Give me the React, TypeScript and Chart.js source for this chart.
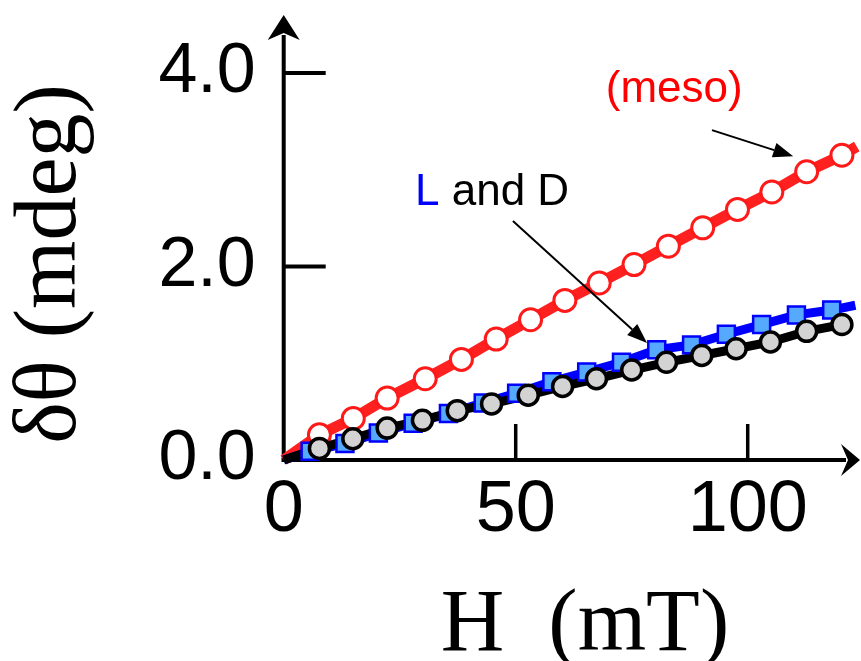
import React, { useEffect, useRef } from 'react';
import { Chart, registerables } from 'chart.js';

Chart.register(...registerables);

// ---- data ----
const mesoH = [7.7, 15.0, 22.3, 30.5, 38.3, 45.8, 53.2, 60.6, 68.0, 75.5, 82.9, 90.3, 97.8, 105.2, 112.7, 120.3];
const mesoTheta = [0.26, 0.43, 0.64, 0.84, 1.04, 1.25, 1.45, 1.65, 1.83, 2.02, 2.21, 2.40, 2.59, 2.77, 2.98, 3.15];

const lH = [5.7, 13.2, 20.4, 27.9, 35.5, 43.0, 50.2, 57.8, 65.3, 72.8, 80.4, 87.9, 95.4, 103.0, 110.5, 118.1];
const lTheta = [0.09, 0.17, 0.28, 0.38, 0.48, 0.59, 0.69, 0.81, 0.91, 1.01, 1.14, 1.19, 1.30, 1.40, 1.50, 1.55];

const dH = [7.7, 14.9, 22.3, 29.9, 37.4, 44.8, 52.7, 60.1, 67.4, 75.0, 82.5, 90.1, 97.5, 104.9, 112.7, 120.3];
const dTheta = [0.12, 0.22, 0.33, 0.41, 0.51, 0.58, 0.67, 0.76, 0.84, 0.93, 1.01, 1.08, 1.15, 1.22, 1.33, 1.40];

// connecting lines run from the origin through the points
const mesoLineH = [0, ...mesoH, 123.5];
const mesoLineTheta = [0, ...mesoTheta, 3.24];
const lLineH = [0, ...lH, 123.2];
const lLineTheta = [0, ...lTheta, 1.6];
const dLineH = [0, ...dH];
const dLineTheta = [0, ...dTheta];

const xTickValues = [0, 50, 100];
const yTickValues = [0, 2, 4];
const xMax = 124.2;
const yMax = 4.6;

const xTitle = 'H  (mT)';
const yTitle = 'δθ (mdeg)';

// annotations in data coordinates
const mesoLabel = { text: '(meso)', x: 69.4, y: 3.7 };
const mesoArrow = { x1: 92.3, y1: 3.41, x2: 109.8, y2: 3.14 };
const ldLabel = { x: 28.3, y: 2.64 };
const ldArrow = { x1: 49.4, y1: 2.47, x2: 78.3, y2: 1.21 };

const SANS = "'Liberation Sans', Arial, sans-serif";
const SERIF = "'Liberation Serif', 'Times New Roman', serif";

const pts = (xs: number[], ys: number[]) => xs.map((x, i) => ({ x, y: ys[i] }));

function drawArrow(ctx: CanvasRenderingContext2D, x1: number, y1: number, x2: number, y2: number) {
  const ang = Math.atan2(y2 - y1, x2 - x1);
  const len = 20;
  const hw = 7.5;
  const bx = x2 - len * Math.cos(ang);
  const by = y2 - len * Math.sin(ang);
  ctx.beginPath();
  ctx.moveTo(x1, y1);
  ctx.lineTo(bx, by);
  ctx.lineWidth = 2;
  ctx.strokeStyle = '#000';
  ctx.stroke();
  ctx.beginPath();
  ctx.moveTo(x2, y2);
  ctx.lineTo(bx + hw * Math.sin(ang), by - hw * Math.cos(ang));
  ctx.lineTo(bx - hw * Math.sin(ang), by + hw * Math.cos(ang));
  ctx.closePath();
  ctx.fillStyle = '#000';
  ctx.fill();
}

const axesPlugin = {
  id: 'customAxes',
  beforeDatasetsDraw(chart: any) {
    const { ctx, chartArea, scales } = chart;
    const x0 = scales.x.getPixelForValue(0);
    const y0 = scales.y.getPixelForValue(0);
    const top = chartArea.top;
    const right = chartArea.right;
    ctx.save();
    ctx.strokeStyle = '#000';
    ctx.fillStyle = '#000';
    ctx.lineCap = 'butt';
    ctx.lineWidth = 4;
    ctx.beginPath();
    ctx.moveTo(x0, y0 + 2);
    ctx.lineTo(x0, top + 20);
    ctx.stroke();
    ctx.beginPath();
    ctx.moveTo(x0 - 2, y0);
    ctx.lineTo(right - 14, y0);
    ctx.stroke();
    // arrowheads
    ctx.beginPath();
    ctx.moveTo(x0, top);
    ctx.lineTo(x0 - 16, top + 25);
    ctx.lineTo(x0, top + 18);
    ctx.lineTo(x0 + 16, top + 25);
    ctx.closePath();
    ctx.fill();
    ctx.beginPath();
    ctx.moveTo(right, y0);
    ctx.lineTo(right - 19, y0 - 16);
    ctx.lineTo(right - 12, y0);
    ctx.lineTo(right - 19, y0 + 16);
    ctx.closePath();
    ctx.fill();
    // tick marks (inward)
    ctx.lineWidth = 4;
    for (const v of yTickValues) {
      if (v === 0) continue;
      const p = scales.y.getPixelForValue(v);
      ctx.beginPath();
      ctx.moveTo(x0, p);
      ctx.lineTo(x0 + 42, p);
      ctx.stroke();
    }
    ctx.lineWidth = 3.5;
    for (const v of xTickValues) {
      if (v === 0) continue;
      const p = scales.x.getPixelForValue(v);
      ctx.beginPath();
      ctx.moveTo(p, y0);
      ctx.lineTo(p, y0 - 36);
      ctx.stroke();
    }
    ctx.restore();
  },
  afterDatasetsDraw(chart: any) {
    const { ctx, scales } = chart;
    const X = (v: number) => scales.x.getPixelForValue(v);
    const Y = (v: number) => scales.y.getPixelForValue(v);
    ctx.save();
    // axis titles
    ctx.fillStyle = '#000';
    ctx.font = `88px ${SERIF}`;
    ctx.textAlign = 'center';
    ctx.textBaseline = 'alphabetic';
    ctx.fillText(xTitle, 585, 650);
    ctx.save();
    ctx.translate(75, 264);
    ctx.rotate(-Math.PI / 2);
    ctx.fillText(yTitle, 0, 0);
    ctx.restore();

    // annotations
    ctx.font = `44px ${SANS}`;
    ctx.textAlign = 'left';
    ctx.fillStyle = '#ff0000';
    ctx.fillText(mesoLabel.text, X(mesoLabel.x), Y(mesoLabel.y));
    const lx = X(ldLabel.x);
    const ly = Y(ldLabel.y);
    ctx.fillStyle = '#0000ff';
    ctx.fillText('L', lx, ly);
    const w = ctx.measureText('L').width;
    ctx.fillStyle = '#000';
    ctx.fillText(' and D', lx + w, ly);

    drawArrow(ctx, X(mesoArrow.x1), Y(mesoArrow.y1), X(mesoArrow.x2), Y(mesoArrow.y2));
    drawArrow(ctx, X(ldArrow.x1), Y(ldArrow.y1), X(ldArrow.x2), Y(ldArrow.y2));
    ctx.restore();
  },
};

export default function App() {
  const ref = useRef<HTMLCanvasElement | null>(null);

  useEffect(() => {
    document.body.style.margin = '0';
    const canvas = ref.current;
    if (!canvas) return;
    const chart = new Chart(canvas, {
      type: 'scatter',
      data: {
        datasets: [
          {
            label: 'D points',
            data: pts(dH, dTheta),
            showLine: false,
            pointStyle: 'circle',
            pointRadius: 10,
            pointBorderWidth: 3.5,
            pointBackgroundColor: '#d3d3d3',
            pointBorderColor: '#000000',
            clip: false,
            order: 0,
          },
          {
            label: 'L points',
            data: pts(lH, lTheta),
            showLine: false,
            pointStyle: 'rect',
            pointRadius: 12,
            pointBorderWidth: 2.5,
            pointBackgroundColor: '#55aaff',
            pointBorderColor: '#0000ff',
            clip: false,
            order: 1,
          },
          {
            label: 'D line',
            data: pts(dLineH, dLineTheta),
            showLine: true,
            borderColor: '#000000',
            borderWidth: 9,
            pointRadius: 0,
            clip: false,
            order: 2,
          },
          {
            label: 'L line',
            data: pts(lLineH, lLineTheta),
            showLine: true,
            borderColor: '#0000ff',
            borderWidth: 9,
            pointRadius: 0,
            clip: false,
            order: 3,
          },
          {
            label: 'meso points',
            data: pts(mesoH, mesoTheta),
            showLine: false,
            pointStyle: 'circle',
            pointRadius: 11,
            pointBorderWidth: 3,
            pointBackgroundColor: '#ffffff',
            pointBorderColor: '#ff1a1a',
            clip: false,
            order: 4,
          },
          {
            label: 'meso line',
            data: pts(mesoLineH, mesoLineTheta),
            showLine: true,
            borderColor: '#ff2020',
            borderWidth: 11,
            pointRadius: 0,
            clip: false,
            order: 5,
          },
        ],
      },
      options: {
        responsive: false,
        animation: false,
        devicePixelRatio: 1,
        layout: { autoPadding: false, padding: { left: 0, top: 15, right: 1, bottom: 0 } },
        plugins: {
          legend: { display: false },
          tooltip: { enabled: false },
          title: { display: false },
        },
        scales: {
          x: {
            type: 'linear',
            min: 0,
            max: xMax,
            grid: { display: false, drawTicks: false },
            border: { display: false },
            afterBuildTicks: (s: any) => {
              s.ticks = xTickValues.map((v) => ({ value: v }));
            },
            afterFit: (s: any) => {
              s.height = 201;
              s.paddingLeft = 0;
              s.paddingRight = 0;
              s.paddingTop = 0;
              s.paddingBottom = 0;
            },
            ticks: {
              color: '#000',
              padding: 8,
              maxRotation: 0,
              autoSkip: false,
              font: { family: SANS, size: 72 },
              callback: (v: any) => String(v),
            },
          },
          y: {
            type: 'linear',
            min: 0,
            max: yMax,
            grid: { display: false, drawTicks: false },
            border: { display: false },
            afterBuildTicks: (s: any) => {
              s.ticks = yTickValues.map((v) => ({ value: v }));
            },
            afterFit: (s: any) => {
              s.width = 283.7;
              s.paddingLeft = 0;
              s.paddingRight = 0;
              s.paddingTop = 0;
              s.paddingBottom = 0;
            },
            ticks: {
              color: '#000',
              padding: 28,
              autoSkip: false,
              font: { family: SANS, size: 70 },
              callback: (v: any) => Number(v).toFixed(1),
            },
          },
        },
      },
      plugins: [axesPlugin],
    } as any);
    return () => chart.destroy();
  }, []);

  return (
    <div style={{ width: 861, height: 661, position: 'relative' }}>
      <canvas ref={ref} width={861} height={661} style={{ display: 'block' }} />
    </div>
  );
}
